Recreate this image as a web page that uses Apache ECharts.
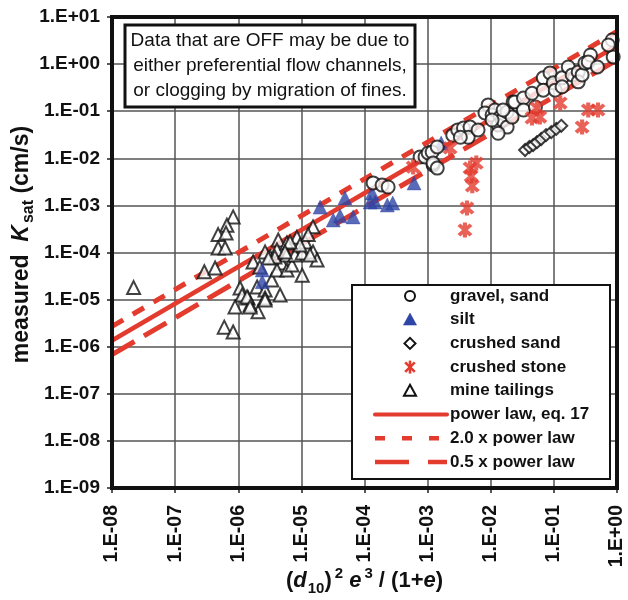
<!DOCTYPE html>
<html><head><meta charset="utf-8">
<script src="https://cdn.jsdelivr.net/npm/echarts@6/dist/echarts.min.js"></script>
<style>html,body{margin:0;padding:0;background:#fff}#c{width:628px;height:600px}</style>
</head><body><div id="c"></div>
<script>
// ---- data (x = (d10)^2 e^3/(1+e), y = measured Ksat cm/s) ----
const gravelSand = [[1.37e-4,3.0e-3],[1.9e-4,2.7e-3],[2.37e-4,2.46e-3],[7.6e-4,1.07e-2],[9.1e-4,1.07e-2],[1.02e-3,1.3e-2],[1.18e-3,1.36e-2],[1.22e-3,7.2e-3],[1.22e-3,7.9e-3],[1.42e-3,1.74e-2],[1.42e-3,6.2e-3],[2.5e-3,3.1e-2],[3.0e-3,4.0e-2],[3.7e-3,4.4e-2],[4.7e-3,4.6e-2],[4.4e-3,2.8e-2],[3.3e-3,2.8e-2],[6.3e-3,4.0e-2],[9.1e-3,1.36e-1],[8.1e-3,9.2e-2],[1.05e-2,8.3e-2],[1.17e-2,1.06e-1],[1.41e-2,7.5e-2],[1.31e-2,5.1e-2],[1.52e-2,6.5e-2],[1.82e-2,9.6e-2],[1.82e-2,4.6e-2],[2.18e-2,7.5e-2],[2.26e-2,1.57e-1],[1.31e-2,3.4e-2],[1.05e-2,6.5e-2],[1.57e-2,1.06e-1],[2.4e-2,1.57e-1],[3.3e-2,1.9e-1],[3.3e-2,1.06e-1],[4.5e-2,2.4e-1],[5.1e-2,1.23e-1],[6.8e-2,5.1e-1],[6.8e-2,2.8e-1],[8.7e-2,6.5e-1],[9.8e-2,4.0e-1],[1.05e-1,2.8e-1],[1.35e-1,5.1e-1],[1.35e-1,3.3e-1],[1.69e-1,8.7e-1],[1.95e-1,5.9e-1],[2.43e-1,6.8e-1],[2.43e-1,4.2e-1],[2.8e-1,5.9e-1],[3.1e-1,1.05],[3.8e-1,1.56],[3.5e-1,1.11],[4.9e-1,8.7e-1],[8.4e-1,3.25],[8.7e-1,1.42],[7.3e-1,2.55]];
const silt = [[1.98e-5,9.2e-4],[4.9e-5,1.44e-3],[3.2e-5,4.9e-4],[4.1e-5,6.0e-4],[6.6e-5,5.7e-4],[1.32e-4,1.83e-3],[1.23e-4,1.18e-3],[1.47e-4,1.18e-3],[2.3e-4,1.02e-3],[2.8e-4,1.12e-3],[6.1e-4,3.0e-3],[1.64e-3,2.1e-2],[2.4e-6,4.25e-5],[2.4e-6,2.4e-5]];
const crushedSand = [[3.5e-2,1.5e-2],[4.1e-2,1.74e-2],[4.7e-2,1.91e-2],[5.4e-2,2.2e-2],[6.3e-2,2.57e-2],[7.5e-2,3.1e-2],[9.1e-2,3.6e-2],[1.09e-1,4.2e-2],[1.31e-1,4.9e-2]];
const crushedStone = [[5.9e-4,6.5e-3],[2.27e-3,1.66e-2],[5.9e-3,7.9e-3],[4.7e-3,6.2e-3],[4.9e-3,4.2e-3],[5.1e-3,2.6e-3],[4.2e-3,8.8e-4],[3.9e-3,3.0e-4],[5.4e-2,1.17e-1],[4.5e-2,7.2e-2],[6.0e-2,7.5e-2],[1.26e-1,1.49e-1],[3.5e-1,1.06e-1],[5.0e-1,1.06e-1],[2.8e-1,4.6e-2]];
const mineTailings = [[2.2e-8,1.8e-5],[8.3e-7,5.7e-4],[6.6e-7,3.8e-4],[4.8e-7,2.4e-4],[6.4e-7,2.6e-4],[4.8e-7,1.25e-4],[6.2e-7,1.25e-4],[2.9e-7,3.9e-5],[4.3e-7,4.7e-5],[6.0e-7,2.6e-6],[8.3e-7,2.05e-6],[1.07e-6,1.76e-5],[1.15e-6,1.25e-5],[1.43e-6,1.08e-5],[8.9e-7,7.0e-6],[2.06e-6,5.5e-6],[1.54e-6,7.7e-6],[1.99e-6,1.85e-5],[2.66e-6,1.6e-5],[2.66e-6,1.08e-5],[4.6e-6,1.25e-5],[3.4e-6,2.6e-5],[1.72e-6,6.3e-5],[2.2e-6,4.9e-5],[2.66e-6,1.03e-4],[3.2e-6,8.0e-5],[4.3e-6,1.84e-4],[4.1e-6,1.13e-4],[5.9e-6,1.6e-4],[4.9e-6,6.0e-5],[4.1e-6,4.25e-5],[5.9e-6,4.25e-5],[7.1e-6,5.4e-5],[5.9e-6,8.9e-5],[8.5e-6,2.1e-4],[7.9e-6,8.9e-5],[1.03e-5,9.8e-5],[1.03e-5,3.3e-5],[1.15e-5,1.67e-4],[1.53e-5,3.5e-4],[1.53e-5,1.03e-4],[1.77e-5,6.9e-5],[1.28e-5,2.4e-4],[9.5e-6,1.44e-4],[1.38e-6,1.14e-5],[2.66e-6,9.8e-6],[1.54e-6,7.0e-6],[3.8e-6,8.0e-5],[3.0e-6,7.6e-5],[1.37e-5,8.9e-5],[6.6e-6,1.67e-4],[5.5e-6,1.03e-4]];
// power-law lines: endpoints read at x = 1E-08 and x = 1E+00
const lineX = [1e-8, 1];
const powerLawK = [1.35e-6, 2.46];
const upperK = [2.7e-6, 4.92];
const lowerK = [6.8e-7, 1.23];
const seriesNames = ['gravel, sand','silt','crushed sand','crushed stone','mine tailings','power law, eq. 17','2.0 x power law','0.5 x power law'];
const boxLines = ['Data that are OFF may be due to','either preferential flow channels,','or clogging by migration of fines.'];

const FONT = '"Liberation Sans", Arial, Helvetica, sans-serif';
const RED = '#e33b2e';
const BLUE = '#2f45a5';
const asterisk = 'path://M38 0L62 0L62 100L38 100Z M23.1 6.1L93.9 76.9L76.9 93.9L6.1 23.1Z M93.9 23.1L23.1 93.9L6.1 76.9L76.9 6.1Z';
function pair(xs, ys){ return xs.map((x,i)=>[x, ys[i]]); }
function fmt(v){ const e = Math.round(Math.log10(v)); return '1.E' + (e < 0 ? '-' : '+') + String(Math.abs(e)).padStart(2,'0'); }

// ---- legend drawn as graphic elements ----
const ZL = 100;
const LX = 352, LY = 285, LW = 258, LH = 194, ROW0 = 296, PITCH = 23.7, MX = 410, TX = 450;
const legendChildren = [{type:'rect', z:ZL, shape:{x:LX, y:LY, width:LW, height:LH}, style:{fill:'#fff', stroke:'#111', lineWidth:2}}];
function rowY(i){ return ROW0 + i*PITCH; }
function tri(cx, cy, s){ return [[cx, cy - s*0.55],[cx + s*0.55, cy + s*0.45],[cx - s*0.55, cy + s*0.45]]; }
legendChildren.push({type:'circle', z:ZL+1, shape:{cx:MX, cy:rowY(0), r:5}, style:{fill:'#fff', stroke:'#111', lineWidth:2}});
legendChildren.push({type:'polygon', z:ZL+1, shape:{points:tri(MX, rowY(1), 12)}, style:{fill:BLUE, stroke:BLUE, lineWidth:0.5}});
legendChildren.push({type:'polygon', z:ZL+1, shape:{points:[[MX, rowY(2)-5.5],[MX+5.5, rowY(2)],[MX, rowY(2)+5.5],[MX-5.5, rowY(2)]]}, style:{fill:'#fff', stroke:'#111', lineWidth:2}});
[[0,-6.5,0,6.5],[-4.8,-4.8,4.8,4.8],[4.8,-4.8,-4.8,4.8]].forEach(s=>{
  legendChildren.push({type:'line', z:ZL+1, shape:{x1:MX+s[0], y1:rowY(3)+s[1], x2:MX+s[2], y2:rowY(3)+s[3]}, style:{stroke:RED, lineWidth:2.6}});
});
legendChildren.push({type:'polygon', z:ZL+1, shape:{points:tri(MX, rowY(4), 11)}, style:{fill:'#fff', stroke:'#111', lineWidth:2}});
legendChildren.push({type:'line', z:ZL+1, shape:{x1:375, y1:rowY(5), x2:447, y2:rowY(5)}, style:{stroke:RED, lineWidth:4, lineCap:'round'}});
legendChildren.push({type:'line', z:ZL+1, shape:{x1:375, y1:rowY(6), x2:442, y2:rowY(6)}, style:{stroke:RED, lineWidth:4.5, lineDash:[10,17]}});
legendChildren.push({type:'line', z:ZL+1, shape:{x1:375, y1:rowY(7), x2:447, y2:rowY(7)}, style:{stroke:RED, lineWidth:4.5, lineDash:[34,19]}});
seriesNames.forEach((n,i)=>{
  legendChildren.push({type:'text', z:ZL+1, style:{x:TX, y:rowY(i), text:n, textVerticalAlign:'middle', font:'bold 17px ' + FONT, fill:'#111'}});
});

const chart = echarts.init(document.getElementById('c'), null, {renderer:'canvas'});
const lineBase = {type:'line', showSymbol:false, symbol:'none', silent:true, z:2};
chart.setOption({
  animation:false,
  backgroundColor:'#fff',
  grid:{left:112, right:11, top:17, bottom:112, show:true, borderColor:'#111', borderWidth:4, backgroundColor:'transparent', z:10, containLabel:false, outerBoundsMode:'none'},
  xAxis:{type:'log', logBase:10, min:1e-8, max:1, interval:1,
    axisLine:{show:false}, axisTick:{show:true, length:5, lineStyle:{color:'#222', width:1.5}},
    splitLine:{show:true, lineStyle:{color:'#555', width:1.5}},
    axisLabel:{rotate:90, margin:17, formatter:fmt, color:'#111', fontFamily:FONT, fontWeight:'bold', fontSize:19.5},
    name:'{p|(}{d|d}{sb|10}{p|)}{sp|2}{p| }{d|e}{sp|3}{p| / (1+}{d|e}{p|)}',
    nameLocation:'middle', nameGap:78, nameMoveOverlap:false,
    nameTextStyle:{rich:{
      p:{fontFamily:FONT, fontWeight:'bold', fontSize:22, color:'#111', lineHeight:30, verticalAlign:'middle'},
      d:{fontFamily:FONT, fontWeight:'bold', fontStyle:'italic', fontSize:22, color:'#111', lineHeight:30, verticalAlign:'middle'},
      sb:{fontFamily:FONT, fontWeight:'bold', fontSize:15, color:'#111', lineHeight:30, verticalAlign:'bottom', padding:[0,0,0,1]},
      sp:{fontFamily:FONT, fontWeight:'bold', fontSize:15, color:'#111', lineHeight:30, verticalAlign:'top', padding:[0,0,0,3]}
    }}
  },
  yAxis:{type:'log', logBase:10, min:1e-9, max:10, interval:1,
    axisLine:{show:false}, axisTick:{show:true, length:5, lineStyle:{color:'#222', width:1.5}},
    splitLine:{show:true, lineStyle:{color:'#555', width:1.5}},
    axisLabel:{margin:12, formatter:fmt, color:'#111', fontFamily:FONT, fontWeight:'bold', fontSize:19},
    name:'{p|measured  }{k|K}{sb|sat}{p| (cm/s)}',
    nameLocation:'middle', nameGap:75, nameRotate:90, nameMoveOverlap:false,
    nameTextStyle:{padding:[0,0,0,16], rich:{
      p:{fontFamily:FONT, fontWeight:'bold', fontSize:23, color:'#111', lineHeight:30, verticalAlign:'middle'},
      k:{fontFamily:FONT, fontWeight:'bold', fontStyle:'italic', fontSize:23, color:'#111', lineHeight:30, verticalAlign:'middle'},
      sb:{fontFamily:FONT, fontWeight:'bold', fontSize:16, color:'#111', lineHeight:30, verticalAlign:'bottom', padding:[0,0,0,2]}
    }}
  },
  graphic:[
    {type:'rect', z:ZL, shape:{x:125, y:25, width:290, height:82}, style:{fill:'#fff', stroke:'#111', lineWidth:3}},
    {type:'text', z:ZL+1, style:{x:270, y:66, text:boxLines.join('\n'), textAlign:'center', textVerticalAlign:'middle', font:'19px ' + FONT, lineHeight:25, fill:'#111'}}
  ].concat(legendChildren),
  series:[
    Object.assign({name:seriesNames[5], data:pair(lineX, powerLawK), lineStyle:{color:RED, width:4.5, type:'solid'}, itemStyle:{color:RED}}, lineBase),
    Object.assign({name:seriesNames[6], data:pair(lineX, upperK), lineStyle:{color:RED, width:5, type:[13,11]}, itemStyle:{color:RED}}, lineBase),
    Object.assign({name:seriesNames[7], data:pair(lineX, lowerK), lineStyle:{color:RED, width:5, type:[26,11]}, itemStyle:{color:RED}}, lineBase),
    {name:seriesNames[4], type:'scatter', data:mineTailings, symbol:'triangle', symbolSize:13, z:3,
      itemStyle:{color:'#fff', borderColor:'#111', borderWidth:2}},
    {name:seriesNames[1], type:'scatter', data:silt, symbol:'triangle', symbolSize:14, z:4,
      itemStyle:{color:BLUE, borderColor:BLUE, borderWidth:0.5}},
    {name:seriesNames[0], type:'scatter', data:gravelSand, symbol:'circle', symbolSize:13, z:4,
      itemStyle:{color:'#fff', borderColor:'#111', borderWidth:2}},
    {name:seriesNames[2], type:'scatter', data:crushedSand, symbol:'diamond', symbolSize:12, z:4,
      itemStyle:{color:'#fff', borderColor:'#111', borderWidth:2}},
    {name:seriesNames[3], type:'scatter', data:crushedStone, symbol:asterisk, symbolSize:15, z:5,
      itemStyle:{color:RED}}
  ]
});
</script></body></html>
